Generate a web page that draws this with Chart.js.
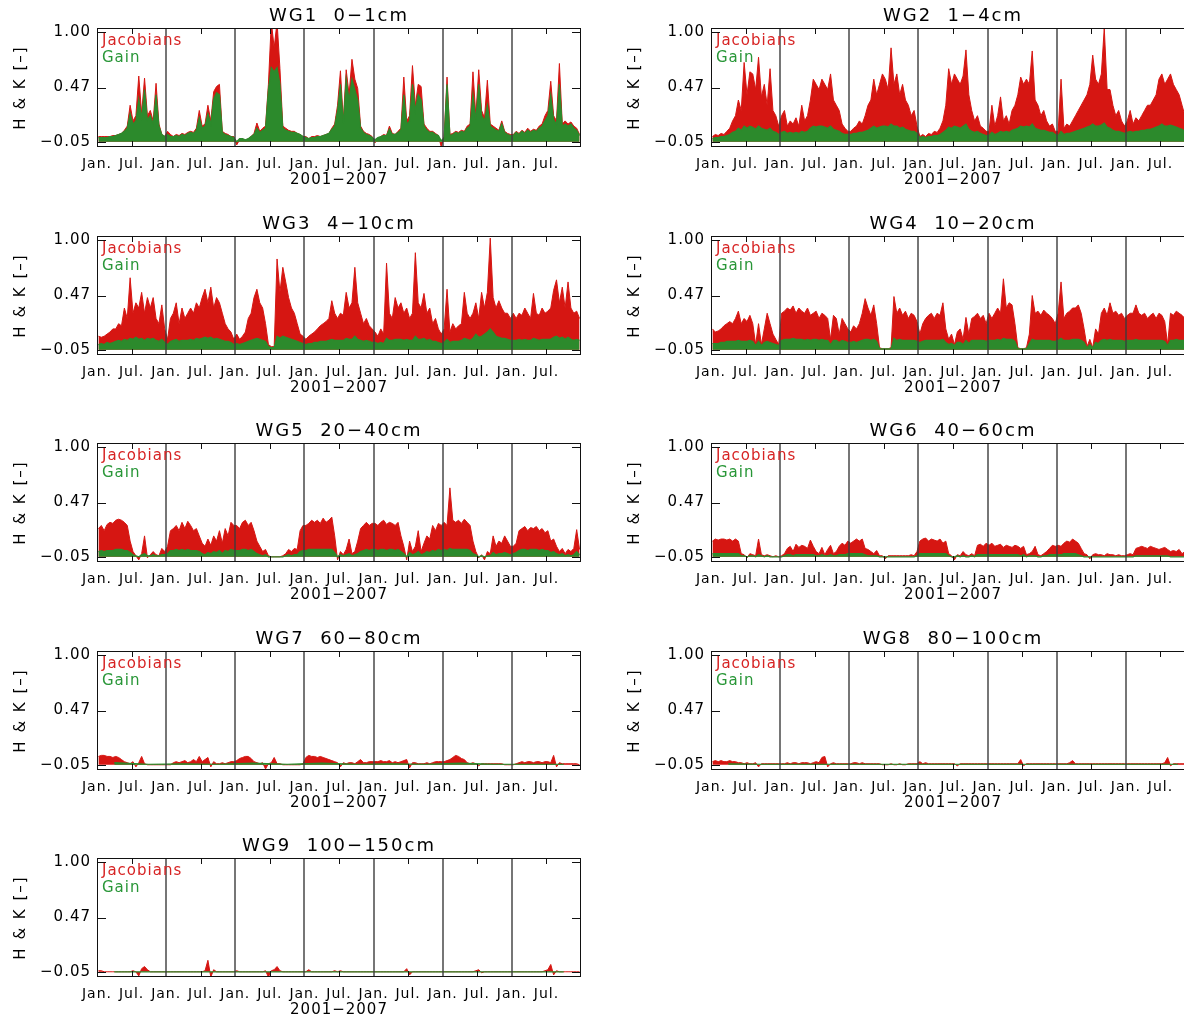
<!DOCTYPE html>
<html>
<head>
<meta charset="utf-8">
<script src="https://cdn.jsdelivr.net/npm/chart.js@4.4.1/dist/chart.umd.min.js"></script>
<style>
html, body { margin: 0; padding: 0; background: #fff; }
#wrap { position: relative; width: 1184px; height: 1017px; overflow: hidden; }
#wrap canvas { position: absolute; }
</style>
</head>
<body>
<div id="wrap"></div>
<script>
// axis labels
const monthLabels = ['Jan.', 'Jul.'];
const yTickValues = [-0.05, 0.47, 1.00];
const yTickLabels = ['\u22120.05', '0.47', '1.00'];
const xTitle = '2001\u22122007';
const yTitle = 'H & K [\u2013]';
const layerNames = ['WG1  0\u22121cm', 'WG2  1\u22124cm', 'WG3  4\u221210cm', 'WG4  10\u221220cm',
    'WG5  20\u221240cm', 'WG6  40\u221260cm', 'WG7  60\u221280cm', 'WG8  80\u2212100cm', 'WG9  100\u2212150cm'];

// half-monthly values, Jan 2001 .. Dec 2007 (one row per year)
const wg1Jac = [
    0.0,0.0, 0.0,0.0, 0.0,0.01, 0.01,0.02, 0.03,0.06, 0.1,0.3, 0.15,0.2, 0.58,0.22, 0.56,0.2, 0.25,0.15, 0.51,0.12, 0.02,0.0,
    0.05,0.02, 0.0,0.02, 0.01,0.03, 0.02,0.04, 0.05,0.04, 0.08,0.25, 0.1,0.12, 0.3,0.15, 0.43,0.48, 0.5,0.05, 0.03,0.02, 0.0,0.0,
    -0.08,-0.03, -0.02,-0.04, -0.02,0.0, 0.03,0.13, 0.05,0.08, 0.1,0.5, 1.1,0.85, 1.1,0.65, 0.1,0.08, 0.06,0.05, 0.05,0.03, 0.02,0.0,
    0.0,-0.02, 0.0,0.0, 0.01,0.0, 0.01,0.02, 0.03,0.08, 0.12,0.3, 0.63,0.15, 0.64,0.4, 0.74,0.55, 0.46,0.1, 0.05,0.03, 0.02,0.0,
    -0.06,-0.02, 0.0,0.02, 0.01,0.1, 0.03,0.02, 0.05,0.08, 0.57,0.15, 0.2,0.68, 0.3,0.5, 0.48,0.12, 0.08,0.05, 0.05,0.03, 0.01,-0.1,
    0.0,0.57, 0.02,0.03, 0.05,0.04, 0.06,0.05, 0.1,0.12, 0.62,0.2, 0.64,0.25, 0.18,0.54, 0.12,0.1, 0.08,0.06, 0.15,0.05, 0.03,0.02,
    0.02,0.05, 0.03,0.06, 0.04,0.08, 0.05,0.07, 0.06,0.1, 0.12,0.2, 0.25,0.53, 0.2,0.15, 0.7,0.12, 0.15,0.12, 0.14,0.1, 0.08,0.02
];
const wg1Gain = [
    -0.01,-0.01, -0.01,-0.01, 0.0,0.0, 0.01,0.02, 0.03,0.05, 0.08,0.22, 0.12,0.15, 0.36,0.18, 0.45,0.16, 0.2,0.12, 0.4,0.1, 0.02,0.0,
    0.02,0.0, 0.0,0.01, 0.0,0.02, 0.01,0.03, 0.04,0.03, 0.06,0.18, 0.08,0.1, 0.22,0.12, 0.36,0.42, 0.4,0.04, 0.02,0.01, 0.0,-0.01,
    -0.05,-0.02, -0.02,-0.03, -0.02,0.0, 0.02,0.08, 0.04,0.06, 0.08,0.45, 0.66,0.62, 0.66,0.5, 0.08,0.06, 0.05,0.04, 0.04,0.03, 0.02,0.0,
    -0.01,-0.02, -0.01,-0.01, 0.0,0.0, 0.01,0.02, 0.03,0.07, 0.1,0.25, 0.5,0.12, 0.55,0.35, 0.55,0.45, 0.35,0.08, 0.04,0.02, 0.01,-0.01,
    -0.03,-0.01, 0.0,0.01, 0.01,0.07, 0.02,0.02, 0.04,0.06, 0.4,0.12, 0.15,0.5, 0.25,0.4, 0.35,0.1, 0.06,0.04, 0.04,0.02, 0.01,-0.04,
    -0.01,0.5, 0.01,0.02, 0.04,0.03, 0.05,0.04, 0.08,0.1, 0.4,0.16, 0.5,0.2, 0.15,0.3, 0.1,0.08, 0.06,0.05, 0.12,0.04, 0.02,0.01,
    0.01,0.04, 0.02,0.05, 0.03,0.06, 0.04,0.06, 0.05,0.08, 0.1,0.15, 0.2,0.4, 0.16,0.12, 0.5,0.1, 0.12,0.1, 0.12,0.08, 0.06,0.01
];
const wg2Jac = [
    0.0,0.02, 0.01,0.03, 0.02,0.05, 0.08,0.15, 0.2,0.35, 0.25,0.71, 0.4,0.62, 0.6,0.45, 0.76,0.38, 0.5,0.3, 0.65,0.25, 0.2,0.1,
    0.2,0.25, 0.1,0.15, 0.12,0.18, 0.1,0.3, 0.15,0.2, 0.35,0.55, 0.5,0.45, 0.55,0.5, 0.45,0.6, 0.35,0.3, 0.25,0.12, 0.08,0.05,
    0.05,0.08, 0.1,0.15, 0.12,0.2, 0.3,0.35, 0.55,0.4, 0.5,0.6, 0.55,0.45, 0.85,0.5, 0.6,0.4, 0.5,0.35, 0.3,0.2, 0.25,0.1,
    0.0,0.02, 0.0,0.03, 0.02,0.05, 0.04,0.08, 0.15,0.3, 0.65,0.5, 0.6,0.55, 0.5,0.58, 0.83,0.4, 0.25,0.15, 0.2,0.1, 0.08,0.05,
    0.05,0.3, 0.1,0.2, 0.38,0.15, 0.2,0.12, 0.25,0.3, 0.4,0.57, 0.5,0.55, 0.5,0.82, 0.35,0.3, 0.2,0.25, 0.15,0.1, 0.12,0.05,
    0.05,0.55, 0.08,0.12, 0.1,0.15, 0.2,0.25, 0.3,0.35, 0.4,0.5, 0.78,0.55, 0.5,0.6, 1.04,0.45, 0.45,0.3, 0.2,0.25, 0.15,0.1,
    0.15,0.25, 0.12,0.18, 0.15,0.2, 0.25,0.3, 0.3,0.35, 0.4,0.55, 0.6,0.5, 0.55,0.6, 0.5,0.45, 0.4,0.3, 0.2,0.15, 0.1,0.05
];
const wg2Gain = [
    -0.02,-0.01, -0.01,0.0, 0.0,0.01, 0.02,0.04, 0.05,0.08, 0.06,0.1, 0.08,0.1, 0.09,0.07, 0.1,0.08, 0.07,0.06, 0.08,0.05, 0.04,0.02,
    0.04,0.05, 0.03,0.04, 0.03,0.04, 0.03,0.05, 0.04,0.05, 0.08,0.1, 0.09,0.1, 0.1,0.09, 0.08,0.1, 0.07,0.06, 0.05,0.03, 0.02,0.02,
    0.02,0.03, 0.03,0.04, 0.04,0.05, 0.06,0.08, 0.1,0.08, 0.09,0.1, 0.1,0.09, 0.12,0.1, 0.1,0.08, 0.09,0.07, 0.06,0.05, 0.05,0.03,
    -0.01,0.0, -0.01,0.0, 0.0,0.01, 0.01,0.02, 0.04,0.06, 0.09,0.08, 0.1,0.09, 0.08,0.1, 0.12,0.07, 0.05,0.04, 0.05,0.03, 0.02,0.01,
    0.01,0.04, 0.02,0.03, 0.05,0.04, 0.05,0.04, 0.06,0.07, 0.08,0.1, 0.09,0.1, 0.09,0.12, 0.08,0.07, 0.06,0.06, 0.05,0.04, 0.04,0.02,
    0.01,0.05, 0.02,0.03, 0.03,0.04, 0.05,0.06, 0.07,0.08, 0.09,0.1, 0.12,0.1, 0.1,0.11, 0.13,0.09, 0.08,0.06, 0.05,0.05, 0.04,0.03,
    0.04,0.05, 0.04,0.05, 0.05,0.06, 0.06,0.07, 0.07,0.08, 0.09,0.1, 0.12,0.1, 0.1,0.11, 0.1,0.09, 0.08,0.07, 0.05,0.04, 0.03,0.02
];
const wg3Jac = [
    0.08,0.07, 0.08,0.1, 0.12,0.15, 0.15,0.2, 0.18,0.35, 0.25,0.64, 0.3,0.4, 0.35,0.5, 0.3,0.45, 0.35,0.45, 0.25,0.2, 0.38,0.15,
    0.05,0.25, 0.3,0.4, 0.2,0.35, 0.25,0.3, 0.35,0.3, 0.4,0.35, 0.45,0.53, 0.4,0.55, 0.35,0.45, 0.4,0.3, 0.2,0.15, 0.12,0.05,
    0.1,0.05, 0.08,0.12, 0.25,0.3, 0.45,0.53, 0.4,0.35, 0.2,0.0, -0.02,-0.02, 0.82,0.5, 0.74,0.6, 0.45,0.35, 0.3,0.2, 0.1,0.08,
    0.05,0.08, 0.1,0.12, 0.15,0.18, 0.2,0.22, 0.25,0.42, 0.3,0.25, 0.3,0.28, 0.5,0.35, 0.4,0.74, 0.4,0.3, 0.2,0.25, 0.18,0.15,
    0.12,0.08, 0.15,0.1, 0.78,0.3, 0.25,0.45, 0.35,0.4, 0.3,0.35, 0.25,0.3, 0.88,0.4, 0.35,0.49, 0.3,0.35, 0.2,0.25, 0.15,0.1,
    0.15,0.53, 0.12,0.2, 0.15,0.18, 0.2,0.5, 0.3,0.25, 0.3,0.4, 0.25,0.5, 0.35,0.5, 1.02,0.45, 0.35,0.42, 0.35,0.3, 0.3,0.25,
    0.3,0.25, 0.3,0.28, 0.35,0.3, 0.25,0.49, 0.3,0.28, 0.35,0.3, 0.32,0.35, 0.52,0.62, 0.4,0.55, 0.35,0.6, 0.35,0.3, 0.32,0.25
];
const wg3Gain = [
    0.0,0.01, 0.0,0.02, 0.01,0.02, 0.03,0.04, 0.03,0.05, 0.04,0.06, 0.05,0.07, 0.05,0.06, 0.04,0.06, 0.05,0.06, 0.04,0.03, 0.05,0.02,
    0.0,0.03, 0.04,0.05, 0.03,0.04, 0.04,0.04, 0.05,0.04, 0.06,0.05, 0.06,0.07, 0.06,0.07, 0.05,0.06, 0.05,0.04, 0.03,0.03, 0.02,0.0,
    0.01,0.0, 0.01,0.02, 0.03,0.04, 0.05,0.06, 0.05,0.04, 0.03,-0.02, -0.03,-0.03, 0.08,0.06, 0.08,0.07, 0.06,0.05, 0.04,0.03, 0.02,0.01,
    0.0,0.01, 0.01,0.02, 0.02,0.03, 0.03,0.03, 0.04,0.05, 0.04,0.04, 0.04,0.04, 0.06,0.05, 0.05,0.08, 0.05,0.04, 0.03,0.04, 0.03,0.02,
    0.02,0.01, 0.02,0.01, 0.06,0.04, 0.04,0.05, 0.05,0.05, 0.04,0.05, 0.04,0.04, 0.08,0.05, 0.05,0.06, 0.04,0.05, 0.03,0.03, 0.02,0.01,
    0.02,0.05, 0.02,0.03, 0.03,0.03, 0.04,0.06, 0.05,0.04, 0.06,0.1, 0.07,0.08, 0.1,0.12, 0.15,0.12, 0.08,0.07, 0.06,0.06, 0.05,0.04,
    0.04,0.04, 0.05,0.04, 0.05,0.04, 0.04,0.06, 0.05,0.04, 0.05,0.05, 0.05,0.05, 0.07,0.08, 0.06,0.07, 0.05,0.07, 0.05,0.04, 0.05,0.04
];
const wg4Jac = [
    0.15,0.12, 0.13,0.15, 0.18,0.2, 0.22,0.2, 0.25,0.32, 0.2,0.25, 0.22,0.28, 0.2,0.0, 0.2,0.0, 0.15,0.3, 0.2,0.1, 0.05,0.0,
    0.3,0.32, 0.35,0.33, 0.37,0.3, 0.35,0.32, 0.3,0.35, 0.28,0.3, 0.32,0.25, 0.3,0.28, 0.25,0.05, 0.28,0.25, 0.1,0.25, 0.2,0.15,
    0.12,0.18, 0.15,0.2, 0.3,0.44, 0.35,0.28, 0.38,0.2, -0.03,-0.04, -0.04,-0.04, -0.03,0.46, 0.3,0.35, 0.28,0.32, 0.25,0.3, 0.28,0.22,
    0.1,0.2, 0.25,0.28, 0.3,0.25, 0.3,0.28, 0.4,0.15, 0.05,0.1, 0.0,0.12, 0.15,0.05, 0.26,0.1, 0.25,0.27, 0.3,0.25, 0.28,0.2,
    0.3,0.25, 0.3,0.35, 0.3,0.63, 0.35,0.4, 0.38,0.2, -0.03,-0.04, -0.04,-0.03, 0.1,0.47, 0.3,0.32, 0.28,0.33, 0.3,0.28, 0.25,0.2,
    0.3,0.6, 0.25,0.3, 0.32,0.35, 0.35,0.38, 0.3,0.15, -0.02,0.05, -0.03,0.15, 0.1,0.3, 0.35,0.28, 0.4,0.3, 0.32,0.28, 0.3,0.25,
    0.28,0.3, 0.3,0.38, 0.3,0.28, 0.3,0.25, 0.28,0.3, 0.25,0.3, 0.28,0.22, 0.0,0.3, 0.28,0.32, 0.3,0.28, 0.25,0.22, 0.2,0.15
];
const wg4Gain = [
    0.01,0.01, 0.01,0.02, 0.02,0.03, 0.03,0.03, 0.03,0.04, 0.03,0.03, 0.03,0.04, 0.03,-0.01, 0.03,-0.01, 0.02,0.03, 0.02,0.01, 0.0,-0.01,
    0.04,0.05, 0.05,0.05, 0.06,0.05, 0.05,0.05, 0.04,0.05, 0.04,0.05, 0.05,0.04, 0.05,0.04, 0.04,0.0, 0.04,0.04, 0.02,0.04, 0.03,0.02,
    0.02,0.03, 0.02,0.03, 0.04,0.05, 0.05,0.04, 0.05,0.03, -0.04,-0.04, -0.04,-0.04, -0.04,0.06, 0.04,0.05, 0.04,0.04, 0.04,0.04, 0.04,0.03,
    0.02,0.03, 0.04,0.04, 0.04,0.04, 0.04,0.04, 0.05,0.02, 0.0,0.01, -0.01,0.02, 0.02,0.0, 0.04,0.01, 0.04,0.04, 0.04,0.04, 0.04,0.03,
    0.04,0.04, 0.04,0.05, 0.04,0.06, 0.05,0.05, 0.05,0.03, -0.04,-0.04, -0.04,-0.04, 0.01,0.05, 0.04,0.04, 0.04,0.04, 0.04,0.04, 0.03,0.03,
    0.04,0.06, 0.04,0.04, 0.04,0.05, 0.05,0.05, 0.04,0.02, -0.03,0.0, -0.03,0.02, 0.01,0.04, 0.05,0.04, 0.05,0.04, 0.04,0.04, 0.04,0.03,
    0.04,0.04, 0.04,0.05, 0.04,0.04, 0.04,0.04, 0.04,0.04, 0.04,0.04, 0.04,0.03, -0.01,0.04, 0.04,0.05, 0.04,0.04, 0.04,0.03, 0.03,0.02
];
const wg5Jac = [
    0.22,0.25, 0.2,0.26, 0.28,0.27, 0.3,0.31, 0.3,0.28, 0.25,0.1, 0.0,-0.04, -0.08,-0.02, 0.15,-0.06, -0.03,0.0, -0.03,-0.04, 0.03,0.0,
    0.05,0.2, 0.22,0.25, 0.2,0.28, 0.22,0.29, 0.25,0.2, 0.22,0.15, 0.08,0.05, 0.12,0.06, 0.15,0.1, 0.2,0.08, 0.22,0.15, 0.28,0.25,
    0.25,0.22, 0.28,0.3, 0.25,0.28, 0.2,0.1, 0.05,0.0, 0.02,-0.04, -0.05,-0.05, -0.05,-0.05, -0.04,-0.02, 0.02,0.0, 0.03,0.02, 0.2,0.25,
    0.25,0.27, 0.3,0.28, 0.3,0.27, 0.32,0.28, 0.3,0.33, 0.15,-0.08, 0.0,-0.03, 0.02,0.12, -0.02,0.0, 0.1,0.22, 0.25,0.28, 0.25,0.27,
    0.27,0.25, 0.28,0.3, 0.26,0.28, 0.27,0.25, 0.28,0.15, 0.05,-0.08, 0.1,0.0, 0.05,0.2, 0.0,0.08, 0.15,0.12, 0.25,0.2, 0.27,0.25,
    0.28,0.25, 0.61,0.3, 0.28,0.3, 0.27,0.31, 0.28,0.25, 0.1,0.0, -0.06,-0.03, -0.08,0.0, -0.02,0.15, 0.05,0.1, 0.08,0.15, 0.1,0.05,
    0.05,0.08, 0.2,0.22, 0.24,0.2, 0.23,0.22, 0.24,0.2, 0.22,0.18, 0.2,0.1, 0.12,0.05, 0.0,0.03, -0.02,0.02, 0.0,0.03, 0.21,0.02
];
const wg5Gain = [
    0.0,0.01, 0.0,0.01, 0.01,0.01, 0.02,0.02, 0.02,0.01, 0.01,-0.01, -0.03,-0.04, -0.05,-0.03, -0.02,-0.04, -0.04,-0.03, -0.04,-0.04, -0.03,-0.03,
    -0.02,0.01, 0.01,0.02, 0.01,0.02, 0.01,0.02, 0.01,0.01, 0.01,0.0, -0.02,-0.03, -0.01,-0.02, 0.0,-0.01, 0.01,-0.02, 0.01,0.0, 0.02,0.01,
    0.01,0.01, 0.02,0.02, 0.01,0.02, 0.0,-0.02, -0.03,-0.04, -0.03,-0.05, -0.05,-0.05, -0.05,-0.05, -0.05,-0.04, -0.03,-0.04, -0.03,-0.03, 0.0,0.01,
    0.01,0.02, 0.02,0.02, 0.02,0.02, 0.02,0.02, 0.02,0.02, -0.01,-0.05, -0.03,-0.04, -0.03,-0.02, -0.04,-0.03, -0.02,0.0, 0.01,0.02, 0.01,0.02,
    0.02,0.01, 0.02,0.02, 0.01,0.02, 0.02,0.01, 0.02,0.0, -0.02,-0.05, -0.01,-0.03, -0.02,0.0, -0.03,-0.02, 0.0,-0.01, 0.01,0.0, 0.02,0.01,
    0.02,0.01, 0.03,0.02, 0.02,0.02, 0.02,0.02, 0.02,0.01, -0.02,-0.03, -0.05,-0.04, -0.05,-0.04, -0.04,-0.01, -0.03,-0.02, -0.02,-0.01, -0.02,-0.03,
    -0.02,-0.01, 0.01,0.02, 0.02,0.01, 0.02,0.02, 0.02,0.01, 0.02,0.01, 0.01,-0.01, 0.0,-0.02, -0.03,-0.02, -0.04,-0.03, -0.04,-0.03, 0.0,-0.03
];
const wg6Jac = [
    0.1,0.12, 0.11,0.12, 0.12,0.11, 0.12,0.1, 0.12,0.1, -0.02,-0.03, -0.06,-0.02, -0.03,-0.04, 0.12,-0.03, -0.04,-0.03, -0.04,-0.05, -0.04,-0.05,
    -0.04,-0.02, 0.03,0.05, 0.0,0.07, 0.04,0.06, 0.05,0.03, 0.11,0.05, 0.0,-0.02, 0.04,-0.03, 0.02,0.06, -0.02,0.0, 0.05,0.08, 0.06,0.1,
    0.08,0.1, 0.12,0.1, 0.12,0.03, 0.02,0.0, -0.02,0.01, -0.04,-0.04, -0.07,-0.04, -0.04,-0.04, -0.04,-0.04, -0.04,-0.04, -0.04,-0.03, -0.04,0.0,
    0.1,0.12, 0.13,0.1, 0.12,0.11, 0.1,0.12, 0.08,0.1, -0.02,-0.04, -0.08,-0.03, -0.04,0.0, -0.03,-0.04, -0.02,-0.04, 0.06,0.07, 0.05,0.08,
    0.06,0.08, 0.05,0.06, 0.07,0.04, 0.06,0.05, 0.04,0.06, 0.05,0.03, 0.05,-0.03, -0.02,0.0, 0.05,-0.03, -0.04,-0.02, 0.0,0.03, 0.06,0.05,
    0.06,0.05, 0.08,0.1, 0.09,0.12, 0.1,0.08, 0.03,-0.02, -0.03,-0.07, -0.03,-0.02, -0.03,-0.03, -0.04,-0.02, -0.03,-0.03, -0.04,-0.03, -0.04,-0.04,
    -0.03,-0.02, -0.03,0.03, 0.04,0.05, 0.04,0.03, 0.05,0.04, 0.03,0.02, 0.03,0.04, 0.02,0.0, 0.01,0.0, 0.02,-0.02, 0.0,-0.01, 0.0,-0.02
];
const wg6Gain = [
    -0.02,-0.02, -0.02,-0.02, -0.02,-0.02, -0.02,-0.02, -0.02,-0.02, -0.04,-0.04, -0.05,-0.04, -0.04,-0.05, -0.03,-0.04, -0.05,-0.04, -0.05,-0.05, -0.05,-0.05,
    -0.05,-0.04, -0.03,-0.03, -0.04,-0.03, -0.03,-0.03, -0.03,-0.03, -0.03,-0.03, -0.04,-0.04, -0.03,-0.04, -0.04,-0.03, -0.04,-0.04, -0.03,-0.03, -0.03,-0.02,
    -0.02,-0.02, -0.02,-0.02, -0.02,-0.03, -0.04,-0.04, -0.04,-0.04, -0.05,-0.05, -0.05,-0.05, -0.05,-0.05, -0.05,-0.05, -0.05,-0.05, -0.05,-0.05, -0.05,-0.04,
    -0.02,-0.02, -0.02,-0.02, -0.02,-0.02, -0.02,-0.02, -0.02,-0.02, -0.04,-0.05, -0.05,-0.04, -0.05,-0.04, -0.05,-0.05, -0.04,-0.05, -0.03,-0.03, -0.03,-0.03,
    -0.03,-0.03, -0.03,-0.03, -0.03,-0.03, -0.03,-0.03, -0.03,-0.03, -0.03,-0.04, -0.03,-0.05, -0.04,-0.04, -0.04,-0.05, -0.05,-0.04, -0.04,-0.03, -0.03,-0.03,
    -0.03,-0.03, -0.02,-0.02, -0.02,-0.02, -0.02,-0.03, -0.04,-0.05, -0.05,-0.05, -0.05,-0.05, -0.05,-0.05, -0.05,-0.05, -0.05,-0.05, -0.05,-0.05, -0.05,-0.05,
    -0.05,-0.05, -0.05,-0.04, -0.04,-0.04, -0.04,-0.04, -0.04,-0.04, -0.04,-0.04, -0.04,-0.04, -0.04,-0.05, -0.05,-0.05, -0.05,-0.05, -0.05,-0.05, -0.05,-0.05
];
const wg7Jac = [
    0.03,0.04, 0.04,0.03, 0.03,0.02, 0.03,0.02, 0.0,-0.02, -0.03,-0.04, -0.02,-0.07, -0.03,0.03, -0.04,-0.05, -0.05,-0.05, -0.05,-0.05, -0.05,-0.05,
    -0.05,-0.05, -0.03,-0.02, -0.03,-0.02, -0.01,-0.03, -0.02,0.0, -0.02,0.03, -0.02,0.0, 0.02,-0.07, -0.02,-0.04, -0.04,-0.03, -0.04,-0.03, -0.02,-0.02,
    -0.01,0.01, 0.02,0.03, 0.03,0.01, -0.02,-0.03, -0.04,-0.03, -0.09,-0.04, -0.03,0.02, -0.04,-0.04, -0.05,-0.05, -0.05,-0.05, -0.05,-0.05, -0.05,-0.04,
    0.02,0.04, 0.03,0.03, 0.02,0.03, 0.02,0.01, 0.0,-0.01, -0.02,-0.03, -0.07,-0.03, -0.04,-0.03, -0.03,-0.04, -0.02,0.0, -0.03,-0.03, -0.02,-0.02,
    -0.02,-0.02, -0.01,-0.02, -0.02,-0.01, -0.03,-0.02, -0.03,-0.02, -0.01,0.0, -0.08,-0.03, -0.03,-0.04, -0.04,-0.04, -0.03,-0.04, -0.03,-0.02, -0.02,-0.02,
    -0.02,-0.01, 0.0,0.02, 0.04,0.03, 0.01,0.0, -0.03,-0.04, -0.03,-0.04, -0.06,-0.04, -0.04,-0.04, -0.04,-0.04, -0.04,-0.04, -0.04,-0.05, -0.05,-0.05,
    -0.05,-0.04, -0.03,-0.02, -0.03,-0.02, -0.02,-0.03, -0.02,-0.02, -0.03,-0.02, -0.02,-0.03, 0.04,-0.07, -0.03,-0.04, -0.04,-0.04, -0.04,-0.04, -0.04,-0.05
];
// deep layers: gain is nearly flat, two values a year
const wg7Gain = [-0.03,-0.045, -0.04,-0.045, -0.035,-0.045, -0.035,-0.045, -0.04,-0.045, -0.035,-0.045, -0.045,-0.045];
const wg8Jac = [
    -0.02,-0.01, -0.02,-0.01, -0.02,-0.02, -0.01,-0.02, -0.02,-0.03, -0.03,-0.04, -0.03,-0.04, -0.04,-0.03, -0.07,-0.04, -0.04,-0.04, -0.04,-0.04, -0.04,-0.04,
    -0.04,-0.04, -0.03,-0.04, -0.03,-0.03, -0.04,-0.03, -0.03,-0.03, -0.04,-0.03, -0.02,-0.03, 0.02,0.03, -0.07,-0.04, -0.03,-0.04, -0.04,-0.04, -0.04,-0.04,
    -0.04,-0.03, -0.03,-0.04, -0.03,-0.04, -0.04,-0.04, -0.04,-0.04, -0.04,-0.05, -0.05,-0.05, -0.04,-0.05, -0.05,-0.04, -0.05,-0.05, -0.04,-0.04, -0.04,-0.04,
    -0.02,-0.04, -0.03,-0.04, -0.04,-0.04, -0.04,-0.04, -0.04,-0.04, -0.04,-0.04, -0.04,-0.06, -0.04,-0.04, -0.04,-0.04, -0.04,-0.04, -0.04,-0.04, -0.04,-0.04,
    -0.04,-0.04, -0.04,-0.04, -0.04,-0.04, -0.04,-0.04, -0.04,-0.04, -0.04,0.0, -0.06,-0.04, -0.04,-0.04, -0.04,-0.04, -0.04,-0.04, -0.04,-0.04, -0.04,-0.04,
    -0.04,-0.04, -0.04,-0.04, -0.03,-0.01, -0.04,-0.04, -0.04,-0.04, -0.04,-0.04, -0.04,-0.04, -0.04,-0.04, -0.04,-0.04, -0.04,-0.04, -0.04,-0.04, -0.04,-0.04,
    -0.04,-0.04, -0.04,-0.04, -0.04,-0.04, -0.04,-0.04, -0.04,-0.04, -0.04,-0.04, -0.04,-0.03, 0.02,-0.06, -0.04,-0.04, -0.04,-0.04, -0.04,-0.04, -0.04,-0.04
];
const wg8Gain = [-0.04,-0.045, -0.045,-0.045, -0.045,-0.045, -0.045,-0.045, -0.045,-0.045, -0.045,-0.045, -0.045,-0.045];
const wg9Jac = [
    -0.04,-0.04, -0.05,-0.05, -0.05,-0.05, -0.05,-0.05, -0.05,-0.05, -0.05,-0.05, -0.04,-0.05, -0.09,-0.02, 0.0,-0.03, -0.05,-0.05, -0.05,-0.05, -0.05,-0.05,
    -0.05,-0.05, -0.05,-0.05, -0.05,-0.05, -0.05,-0.05, -0.05,-0.05, -0.05,-0.05, -0.05,-0.04, 0.06,-0.1, -0.03,-0.05, -0.05,-0.05, -0.05,-0.05, -0.05,-0.05,
    -0.04,-0.05, -0.05,-0.05, -0.05,-0.05, -0.05,-0.05, -0.05,-0.05, -0.04,-0.1, -0.04,-0.03, 0.0,-0.04, -0.05,-0.05, -0.05,-0.05, -0.05,-0.05, -0.05,-0.05,
    -0.05,-0.03, -0.05,-0.05, -0.05,-0.05, -0.05,-0.05, -0.05,-0.05, -0.04,-0.05, -0.04,-0.05, -0.05,-0.05, -0.05,-0.05, -0.05,-0.05, -0.05,-0.05, -0.05,-0.05,
    -0.05,-0.05, -0.05,-0.05, -0.05,-0.05, -0.05,-0.05, -0.05,-0.05, -0.05,-0.02, -0.08,-0.05, -0.05,-0.05, -0.05,-0.05, -0.05,-0.05, -0.05,-0.05, -0.05,-0.05,
    -0.05,-0.05, -0.05,-0.05, -0.05,-0.05, -0.05,-0.05, -0.05,-0.05, -0.05,-0.04, -0.03,-0.06, -0.05,-0.05, -0.05,-0.05, -0.05,-0.05, -0.05,-0.05, -0.05,-0.05,
    -0.05,-0.05, -0.05,-0.05, -0.05,-0.05, -0.05,-0.05, -0.05,-0.05, -0.05,-0.04, -0.03,0.02, -0.08,-0.04, -0.05,-0.05, -0.05,-0.05, -0.05,-0.05, -0.05,-0.05
];
const wg9Gain = [-0.05,-0.05, -0.05,-0.05, -0.05,-0.05, -0.05,-0.05, -0.05,-0.05, -0.05,-0.05, -0.05,-0.05];

const jacColor = 'rgb(214, 22, 18)';
const gainColor = 'rgb(44, 138, 44)';
const fontFamily = '"DejaVu Sans", "Liberation Sans", sans-serif';
const MONTHS = 84;

Chart.defaults.font.family = fontFamily;
Chart.defaults.color = '#000';
Chart.defaults.animation = false;

// spread a series evenly over the 84 months
function toPoints(values) {
    const step = MONTHS / values.length;
    return values.map((v, i) => ({ x: (i + 0.5) * step, y: v }));
}

function line(ctx, x1, y1, x2, y2) {
    ctx.beginPath();
    ctx.moveTo(x1, y1);
    ctx.lineTo(x2, y2);
    ctx.stroke();
}

// IDL style frame: box, year lines, inward ticks, titles and legend text
const idlFrame = {
    id: 'idlFrame',
    beforeDraw(chart) {
        chart.ctx.letterSpacing = '1px';
    },
    afterDatasetsDraw(chart, args, opts) {
        const { ctx, chartArea: a, scales: { x, y } } = chart;
        ctx.save();

        // year boundaries
        ctx.strokeStyle = '#3c3c3c';
        ctx.lineWidth = 1.4;
        for (let m = 12; m < MONTHS; m += 12) {
            const px = Math.round(x.getPixelForValue(m));
            line(ctx, px, a.top, px, a.bottom);
        }

        ctx.strokeStyle = '#111';
        ctx.lineWidth = 1;
        for (let m = 6; m < MONTHS; m += 12) {
            const px = Math.round(x.getPixelForValue(m)) + 0.5;
            line(ctx, px, a.bottom, px, a.bottom - 6);
            line(ctx, px, a.top, px, a.top + 6);
        }
        yTickValues.forEach(v => {
            const py = Math.round(y.getPixelForValue(v)) + 0.5;
            line(ctx, a.left, py, a.left + 9, py);
            line(ctx, a.right, py, a.right - 9, py);
        });
        ctx.strokeRect(Math.round(a.left) + 0.5, Math.round(a.top) + 0.5,
            Math.round(a.width) - 1, Math.round(a.height) - 1);

        // texts
        ctx.textBaseline = 'middle';
        ctx.fillStyle = '#000';
        ctx.letterSpacing = '2px';
        ctx.font = '18px ' + fontFamily;
        ctx.textAlign = 'center';
        ctx.fillText(opts.title, (a.left + a.right) / 2, a.top - 12);

        ctx.letterSpacing = '1px';
        ctx.font = '15px ' + fontFamily;
        ctx.fillText(xTitle, (a.left + a.right) / 2, a.bottom + 33);

        ctx.save();
        ctx.translate(a.left - 76, (a.top + a.bottom) / 2);
        ctx.rotate(-Math.PI / 2);
        ctx.letterSpacing = '2px';
        ctx.fillText(yTitle, 0, 0);
        ctx.restore();

        ctx.textAlign = 'left';
        ctx.font = '15px ' + fontFamily;
        ctx.fillStyle = 'rgb(215, 35, 35)';
        ctx.fillText('Jacobians', a.left + 5, a.top + 13);
        ctx.fillStyle = 'rgb(40, 150, 55)';
        ctx.fillText('Gain', a.left + 5, a.top + 30);

        ctx.restore();
    }
};

const panels = [
    [wg1Jac, wg1Gain], [wg2Jac, wg2Gain], [wg3Jac, wg3Gain], [wg4Jac, wg4Gain],
    [wg5Jac, wg5Gain], [wg6Jac, wg6Gain], [wg7Jac, wg7Gain], [wg8Jac, wg8Gain], [wg9Jac, wg9Gain]
];

const wrap = document.getElementById('wrap');

panels.forEach(([jac, gain], i) => {
    const col = i % 2;
    const row = Math.floor(i / 2);
    const cv = document.createElement('canvas');
    cv.width = 600;
    cv.height = 200;
    cv.style.width = '600px';
    cv.style.height = '200px';
    cv.style.left = (col ? 614 : 0) + 'px';
    cv.style.top = Math.round(207.6 * row) + 'px';
    wrap.appendChild(cv);

    new Chart(cv, {
        type: 'line',
        data: {
            datasets: [
                {
                    label: 'Gain',
                    data: toPoints(gain),
                    borderColor: gainColor,
                    backgroundColor: gainColor,
                    borderWidth: 1.2,
                    pointRadius: 0,
                    fill: { value: -0.05 },
                    order: 1
                },
                {
                    label: 'Jacobians',
                    data: toPoints(jac),
                    borderColor: jacColor,
                    backgroundColor: jacColor,
                    borderWidth: 1,
                    pointRadius: 0,
                    fill: { value: -0.05 },
                    order: 2
                }
            ]
        },
        options: {
            responsive: false,
            devicePixelRatio: 1,
            layout: { padding: { top: 28, right: 19, left: 0, bottom: 0 } },
            plugins: {
                legend: { display: false },
                tooltip: { enabled: false },
                idlFrame: { title: layerNames[i] }
            },
            scales: {
                x: {
                    type: 'linear',
                    min: 0,
                    max: MONTHS,
                    grid: { display: false, drawTicks: false },
                    border: { display: false },
                    afterBuildTicks: s => { s.ticks = []; for (let m = 0; m < MONTHS; m += 6) s.ticks.push({ value: m }); },
                    afterFit: s => { s.height = 53; },
                    ticks: {
                        autoSkip: false,
                        maxRotation: 0,
                        padding: 9,
                        font: { size: 14 },
                        callback: v => monthLabels[(v % 12) / 6]
                    }
                },
                y: {
                    min: -0.10,
                    max: 1.04,
                    grid: { display: false, drawTicks: false },
                    border: { display: false },
                    afterBuildTicks: s => { s.ticks = yTickValues.map(v => ({ value: v })); },
                    afterFit: s => { s.width = 97; },
                    ticks: {
                        padding: 6,
                        font: { size: 15 },
                        callback: (v, idx) => yTickLabels[idx]
                    }
                }
            }
        },
        plugins: [idlFrame]
    });
});
</script>
</body>
</html>
